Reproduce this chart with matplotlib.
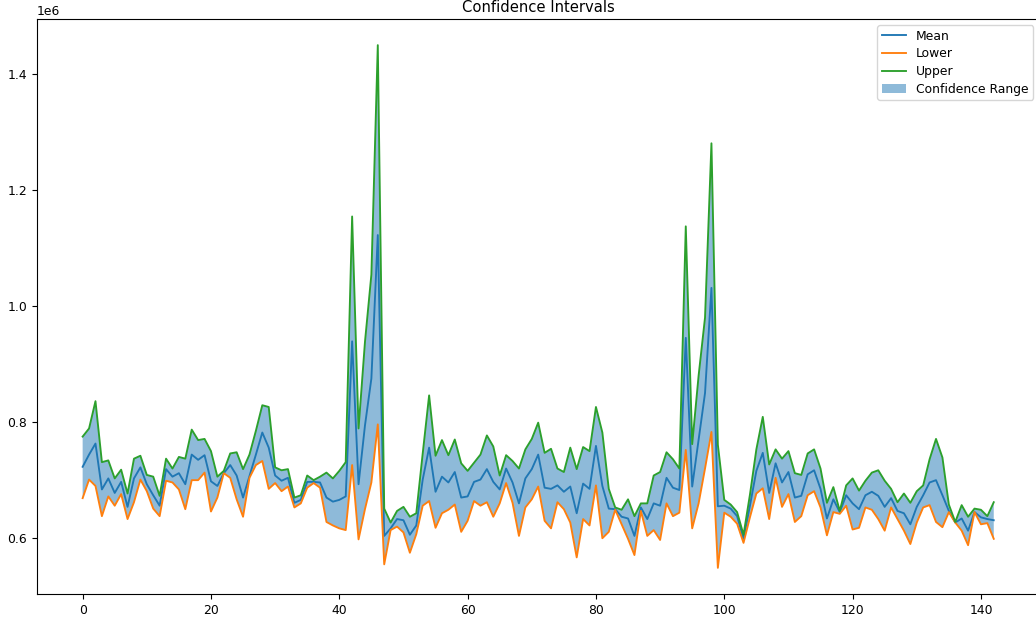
# confidence interval plot: mean with lower/upper bounds and shaded range
import numpy as np
import matplotlib
matplotlib.use("Agg")
import matplotlib.pyplot as plt

# values in millions
upper = [
    0.775, 0.789, 0.836, 0.731, 0.734, 0.703, 0.718, 0.677, 0.737, 0.742,
    0.709, 0.706, 0.673, 0.737, 0.720, 0.740, 0.737, 0.787, 0.769, 0.771,
    0.750, 0.706, 0.716, 0.746, 0.748, 0.719, 0.744, 0.785, 0.829, 0.826,
    0.722, 0.717, 0.719, 0.670, 0.674, 0.708, 0.700, 0.706, 0.713, 0.703,
    0.716, 0.731, 1.154, 0.789, 0.938, 1.054, 1.449, 0.651, 0.627, 0.647,
    0.654, 0.637, 0.643, 0.746, 0.846, 0.742, 0.769, 0.743, 0.770, 0.729,
    0.716, 0.730, 0.744, 0.777, 0.758, 0.708, 0.743, 0.733, 0.720, 0.753,
    0.771, 0.799, 0.747, 0.754, 0.720, 0.714, 0.756, 0.719, 0.757, 0.750,
    0.826, 0.782, 0.685, 0.653, 0.649, 0.667, 0.638, 0.660, 0.660, 0.708,
    0.714, 0.748, 0.736, 0.720, 1.137, 0.762, 0.880, 0.980, 1.280, 0.761,
    0.666, 0.658, 0.645, 0.606, 0.675, 0.753, 0.809, 0.727, 0.753, 0.737,
    0.750, 0.712, 0.709, 0.746, 0.753, 0.720, 0.661, 0.688, 0.647, 0.691,
    0.703, 0.682, 0.699, 0.713, 0.717, 0.699, 0.685, 0.662, 0.677, 0.661,
    0.681, 0.691, 0.736, 0.771, 0.739, 0.658, 0.628, 0.657, 0.637, 0.651,
    0.649, 0.638, 0.662,
]

mean = [
    0.723, 0.744, 0.763, 0.684, 0.703, 0.678, 0.697, 0.654, 0.703, 0.722,
    0.693, 0.674, 0.656, 0.719, 0.706, 0.712, 0.693, 0.744, 0.735, 0.743,
    0.698, 0.690, 0.712, 0.726, 0.708, 0.670, 0.707, 0.744, 0.782, 0.756,
    0.708, 0.699, 0.704, 0.661, 0.666, 0.697, 0.697, 0.696, 0.670, 0.663,
    0.666, 0.672, 0.939, 0.693, 0.794, 0.875, 1.122, 0.604, 0.617, 0.633,
    0.631, 0.606, 0.622, 0.701, 0.756, 0.680, 0.706, 0.696, 0.714, 0.670,
    0.672, 0.697, 0.701, 0.719, 0.697, 0.684, 0.720, 0.696, 0.660, 0.703,
    0.719, 0.744, 0.687, 0.685, 0.691, 0.680, 0.689, 0.643, 0.694, 0.685,
    0.759, 0.690, 0.651, 0.650, 0.637, 0.634, 0.604, 0.653, 0.633, 0.660,
    0.656, 0.704, 0.687, 0.683, 0.945, 0.689, 0.770, 0.850, 1.031, 0.655,
    0.656, 0.651, 0.638, 0.599, 0.656, 0.716, 0.747, 0.678, 0.729, 0.696,
    0.714, 0.670, 0.673, 0.710, 0.717, 0.685, 0.634, 0.667, 0.645, 0.674,
    0.660, 0.650, 0.674, 0.680, 0.673, 0.654, 0.669, 0.647, 0.643, 0.624,
    0.654, 0.674, 0.696, 0.700, 0.674, 0.647, 0.627, 0.634, 0.613, 0.645,
    0.636, 0.633, 0.631,
]

lower = [
    0.669, 0.701, 0.690, 0.638, 0.672, 0.656, 0.676, 0.633, 0.662, 0.701,
    0.681, 0.651, 0.638, 0.699, 0.696, 0.684, 0.650, 0.700, 0.700, 0.713,
    0.646, 0.670, 0.712, 0.704, 0.667, 0.637, 0.704, 0.726, 0.733, 0.685,
    0.695, 0.681, 0.689, 0.653, 0.660, 0.687, 0.695, 0.687, 0.628, 0.622,
    0.617, 0.614, 0.726, 0.598, 0.650, 0.696, 0.796, 0.555, 0.614, 0.620,
    0.610, 0.575, 0.607, 0.656, 0.664, 0.618, 0.643, 0.649, 0.658, 0.611,
    0.630, 0.664, 0.656, 0.662, 0.637, 0.660, 0.695, 0.661, 0.604, 0.653,
    0.667, 0.689, 0.630, 0.617, 0.662, 0.650, 0.627, 0.567, 0.633, 0.622,
    0.691, 0.600, 0.611, 0.649, 0.624, 0.599, 0.571, 0.647, 0.604, 0.614,
    0.597, 0.660, 0.638, 0.644, 0.752, 0.617, 0.660, 0.720, 0.783, 0.549,
    0.644, 0.637, 0.625, 0.592, 0.636, 0.677, 0.686, 0.633, 0.704, 0.654,
    0.676, 0.628, 0.638, 0.674, 0.681, 0.653, 0.605, 0.645, 0.642, 0.656,
    0.615, 0.618, 0.653, 0.649, 0.633, 0.613, 0.653, 0.633, 0.613, 0.590,
    0.627, 0.653, 0.657, 0.628, 0.619, 0.645, 0.627, 0.613, 0.588, 0.645,
    0.624, 0.626, 0.599,
]

# convert to actual units
mean = np.array(mean) * 1e6
lower = np.array(lower) * 1e6
upper = np.array(upper) * 1e6
x = np.arange(len(mean))

# reference looks like a slightly downscaled render: smaller text and lines
plt.rcParams['font.size'] = 8.9
plt.rcParams['lines.linewidth'] = 1.35

fig = plt.figure(figsize=(10.36, 6.17), dpi=100)
# axes run a little past the right edge, like the reference
ax = fig.add_axes([0.0358, 0.0373, 0.9674, 0.9319])

ax.plot(x, mean, label='Mean')
ax.plot(x, lower, label='Lower')
ax.plot(x, upper, label='Upper')
ax.fill_between(x, lower, upper, alpha=0.5, label='Confidence Range')

ax.set_title('Confidence Intervals', fontsize=10.6, pad=5)
ax.legend(loc='upper right', labelspacing=0.38, borderpad=0.35)

fig.savefig("out.png", dpi=100)
